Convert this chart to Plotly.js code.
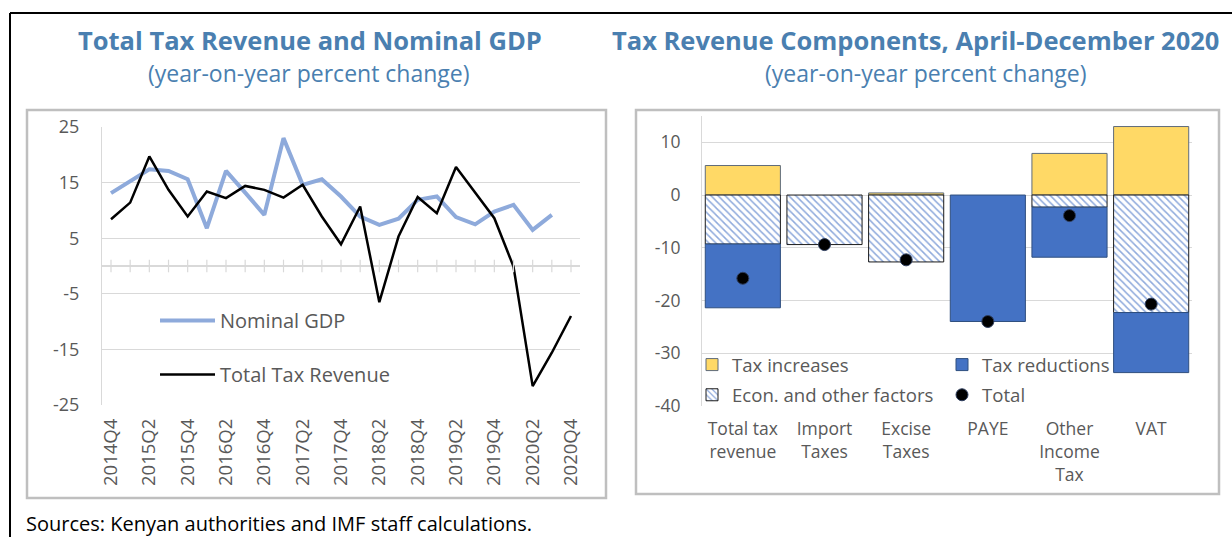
<!DOCTYPE html>
<html>
<head>
<meta charset="utf-8">
<script src="https://cdn.plot.ly/plotly-3.0.1.min.js"></script>
<style>html,body{margin:0;padding:0;background:#fff;}#chart{width:1232px;height:537px;}</style>
</head>
<body>
<div id="chart"></div>
<script>
// ---- Data ----
const quarters = ['2014Q4','2015Q1','2015Q2','2015Q3','2015Q4','2016Q1','2016Q2','2016Q3','2016Q4',
  '2017Q1','2017Q2','2017Q3','2017Q4','2018Q1','2018Q2','2018Q3','2018Q4','2019Q1','2019Q2','2019Q3',
  '2019Q4','2020Q1','2020Q2','2020Q3','2020Q4'];
const nominalGDP = [13.1,15.2,17.4,17.1,15.6,6.8,17.1,13.2,9.2,23.0,14.6,15.6,12.5,8.9,7.4,8.5,11.9,12.5,8.8,7.5,9.8,11.0,6.5,9.2,null];
const totalTaxRevenue = [8.4,11.4,19.7,13.7,8.9,13.4,12.2,14.4,13.7,12.3,14.6,8.9,3.9,10.7,-6.5,5.3,12.4,9.5,17.8,13.1,8.6,-0.1,-21.6,-15.6,-9.0];
const quarterTickLabels = ['2014Q4','2015Q2','2015Q4','2016Q2','2016Q4','2017Q2','2017Q4','2018Q2','2018Q4','2019Q2','2019Q4','2020Q2','2020Q4'];
const leftYTicks = [-25,-15,-5,5,15,25];

const components = ['Total tax<br>revenue','Import<br>Taxes','Excise<br>Taxes','PAYE','Other<br>Income<br>Tax','VAT'];
const taxIncreases = [5.6, null, 0.4, null, 7.9, 13.0];
const econFactors = [-9.3, -9.4, -12.7, null, -2.3, -22.3];
const taxReductions = [-12.1, null, null, -24.0, -9.5, -11.4];
const totals = [-15.8, -9.4, -12.3, -24.0, -3.9, -20.7];
const rightYTicks = [-40,-30,-20,-10,0,10];

// ---- helpers ----
const W = 1232, H = 537;
const fx = x => x / W;
const fy = y => 1 - y / H;
const FONT = 'Open Sans, sans-serif';
const TITLE_BLUE = '#4a7fb0';
const TICK_GREY = '#595959';
const GRID = '#d9d9d9';

const traces = [
  // left chart
  {type:'scatter', mode:'lines', x:quarters, y:nominalGDP, name:'Nominal GDP',
   line:{color:'#8eaadb', width:4}, xaxis:'x', yaxis:'y', legend:'legend', legendgroup:'g1', hoverinfo:'skip'},
  {type:'scatter', mode:'lines', x:quarters, y:totalTaxRevenue, name:'Total Tax Revenue',
   line:{color:'#000000', width:2.5}, xaxis:'x', yaxis:'y', legend:'legend', legendgroup:'g2', hoverinfo:'skip'},
  {type:'scatter', mode:'markers', x:quarters, y:quarters.map(() => 0), showlegend:false,
   marker:{symbol:'line-ns-open', size:9, color:GRID, line:{color:GRID, width:1.2}}, xaxis:'x', yaxis:'y', hoverinfo:'skip'},
  // right chart
  {type:'bar', x:components, y:taxIncreases, name:'Tax increases', xaxis:'x2', yaxis:'y2',
   marker:{color:'#ffd966', line:{color:'#5f6b7a', width:1}}, legend:'legend2', legendgroup:'a', legendrank:1, hoverinfo:'skip'},
  {type:'bar', x:components, y:econFactors, name:'Econ. and other factors', xaxis:'x2', yaxis:'y2',
   marker:{color:'#ffffff', line:{color:'#1a1a1a', width:1},
     pattern:{shape:'\\', fgcolor:'#8faadc', bgcolor:'#ffffff', size:5, solidity:0.3}},
   legend:'legend2', legendgroup:'b', legendrank:2, hoverinfo:'skip'},
  {type:'bar', x:components, y:taxReductions, name:'Tax reductions', xaxis:'x2', yaxis:'y2',
   marker:{color:'#4472c4', line:{color:'#2f4f7f', width:1}}, legend:'legend3', legendgroup:'c', legendrank:3, hoverinfo:'skip'},
  {type:'scatter', mode:'markers', x:components, y:totals, name:'Total', xaxis:'x2', yaxis:'y2',
   marker:{color:'#000000', size:12, line:{color:'#2f3f5f', width:1}}, legend:'legend3', legendgroup:'d', legendrank:4, hoverinfo:'skip'}
];

const leftLegendFont = {family:FONT, size:20, color:TICK_GREY};
const rightLegendFont = {family:FONT, size:18.6, color:TICK_GREY};

const layout = {
  width:W, height:H,
  margin:{l:0, r:0, t:0, b:0},
  paper_bgcolor:'#ffffff', plot_bgcolor:'rgba(0,0,0,0)',
  font:{family:FONT, color:TICK_GREY},
  barmode:'relative', bargap:0.08,
  showlegend:true,
  xaxis:{domain:[fx(102), fx(580)], anchor:'y', type:'category', range:[-0.47, 24.47],
    tickmode:'array', tickvals:quarterTickLabels, ticktext:quarterTickLabels, tickangle:-90,
    tickfont:{family:FONT, size:18.5, color:TICK_GREY}, showgrid:false, zeroline:false, showline:false,
    ticks:'', ticklabelstandoff:9, fixedrange:true},
  yaxis:{domain:[fy(405), fy(127)], anchor:'x', range:[-25,25], tickmode:'array', tickvals:leftYTicks,
    ticktext:leftYTicks.map(v => String(v)),
    tickfont:{family:FONT, size:18, color:TICK_GREY}, showgrid:true, gridcolor:GRID, gridwidth:1,
    zeroline:true, zerolinecolor:GRID, zerolinewidth:1.2, showline:true, linecolor:GRID, linewidth:1,
    ticks:'', ticklabelstandoff:18, fixedrange:true},
  xaxis2:{domain:[fx(702), fx(1192)], anchor:'y2', type:'category',
    tickfont:{family:FONT, size:17.5, color:TICK_GREY}, showgrid:false, zeroline:false, showline:false,
    ticks:'', ticklabelstandoff:11, fixedrange:true},
  yaxis2:{domain:[fy(405.8), fy(116)], anchor:'x2', range:[-40,15], tickmode:'array', tickvals:rightYTicks,
    ticktext:rightYTicks.map(v => String(v)),
    tickfont:{family:FONT, size:17.5, color:TICK_GREY}, showgrid:true, gridcolor:GRID, gridwidth:1,
    zeroline:false, showline:true, linecolor:GRID, linewidth:1, ticks:'', ticklabelstandoff:17, fixedrange:true},
  legend:{x:fx(155), y:fy(301), xanchor:'left', yanchor:'top', bgcolor:'rgba(0,0,0,0)', borderwidth:0,
    font:leftLegendFont, tracegroupgap:25, itemwidth:55, orientation:'v'},
  legend2:{x:fx(692), y:fy(346), xanchor:'left', yanchor:'top', bgcolor:'rgba(0,0,0,0)', borderwidth:0,
    font:rightLegendFont, tracegroupgap:3, itemwidth:30, orientation:'v', traceorder:'grouped'},
  legend3:{x:fx(942), y:fy(346), xanchor:'left', yanchor:'top', bgcolor:'rgba(0,0,0,0)', borderwidth:0,
    font:rightLegendFont, tracegroupgap:3, itemwidth:30, orientation:'v', traceorder:'grouped'},
  shapes:[
    {type:'line', xref:'paper', yref:'paper', x0:fx(10), x1:fx(1232), y0:fy(13), y1:fy(13), line:{color:'#000', width:2}},
    {type:'line', xref:'paper', yref:'paper', x0:fx(10), x1:fx(10), y0:fy(13), y1:fy(537), line:{color:'#000', width:2}},
    {type:'rect', xref:'paper', yref:'paper', x0:fx(27), x1:fx(606), y0:fy(110), y1:fy(498), line:{color:'#bfbfbf', width:2.5}, layer:'below'},
    {type:'rect', xref:'paper', yref:'paper', x0:fx(636), x1:fx(1219), y0:fy(110), y1:fy(494), line:{color:'#bfbfbf', width:2.5}, layer:'below'}
  ],
  annotations:[
    {xref:'paper', yref:'paper', x:fx(310), y:fy(40), xanchor:'center', yanchor:'middle', showarrow:false,
     text:'<b>Total Tax Revenue and Nominal GDP</b>', font:{family:FONT, size:25.5, color:TITLE_BLUE}},
    {xref:'paper', yref:'paper', x:fx(309), y:fy(73), xanchor:'center', yanchor:'middle', showarrow:false,
     text:'(year-on-year percent change)', font:{family:FONT, size:23, color:TITLE_BLUE}},
    {xref:'paper', yref:'paper', x:fx(915), y:fy(40), xanchor:'center', yanchor:'middle', showarrow:false,
     text:'<b>Tax Revenue Components, April-December 2020</b>', font:{family:FONT, size:25.5, color:TITLE_BLUE}},
    {xref:'paper', yref:'paper', x:fx(926), y:fy(73), xanchor:'center', yanchor:'middle', showarrow:false,
     text:'(year-on-year percent change)', font:{family:FONT, size:23, color:TITLE_BLUE}},
    {xref:'paper', yref:'paper', x:fx(24), y:fy(523), xanchor:'left', yanchor:'middle', showarrow:false,
     text:'Sources: Kenyan authorities and IMF staff calculations.', font:{family:FONT, size:20, color:'#000'}}
  ]
};

Plotly.newPlot('chart', traces, layout, {displayModeBar:false, staticPlot:true});
</script>
</body>
</html>
